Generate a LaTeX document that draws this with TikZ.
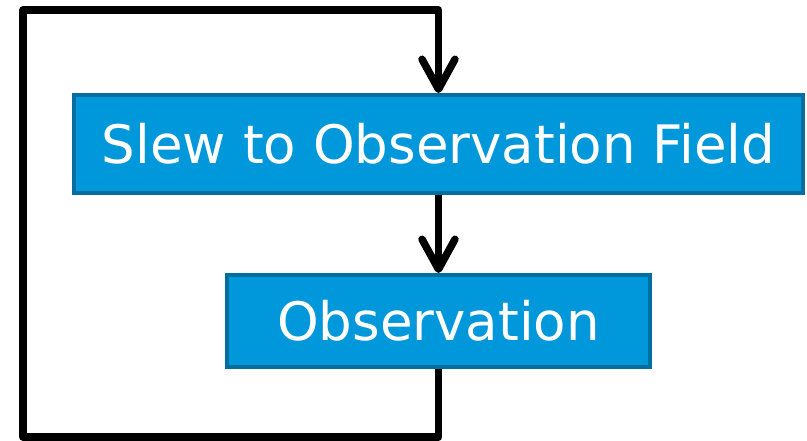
\documentclass[tikz,border=0pt]{standalone}
\usepackage{fontspec}
\setmainfont{DejaVu Sans}
\usetikzlibrary{arrows.meta}
\definecolor{boxfill}{RGB}{0,152,218}
\definecolor{boxline}{RGB}{0,110,160}
\tikzset{
  stepbox/.style={draw=boxline, line width=4pt, fill=boxfill, text=white,
    inner sep=0pt, font=\fontsize{53}{60}\selectfont, anchor=center},
  flow/.style={line width=7.5pt, line join=round, draw=black},
  tip/.style={-{Straight Barb[length=30pt,width=33pt,line cap=round,line join=round]}}
}
\begin{document}
\begin{tikzpicture}[x=1pt,y=-1pt]
\useasboundingbox (0,0) rectangle (807,441);
\node[stepbox, minimum width=729pt, minimum height=98pt] (slew) at (438.5,144) {Slew to Observation Field};
\node[stepbox, minimum width=423pt, minimum height=92pt] (obs) at (438.5,321) {Observation};
\coordinate (c1) at (438.5,437);
\coordinate (c2) at (23,437);
\coordinate (c3) at (23,10);
\coordinate (c4) at (438.5,10);
\draw[flow, tip] (slew.south) -- (obs.north);
\draw[flow, tip] (obs.south) -- (c1) -- (c2) -- (c3) -- (c4) -- (slew.north);
\end{tikzpicture}
\end{document}
